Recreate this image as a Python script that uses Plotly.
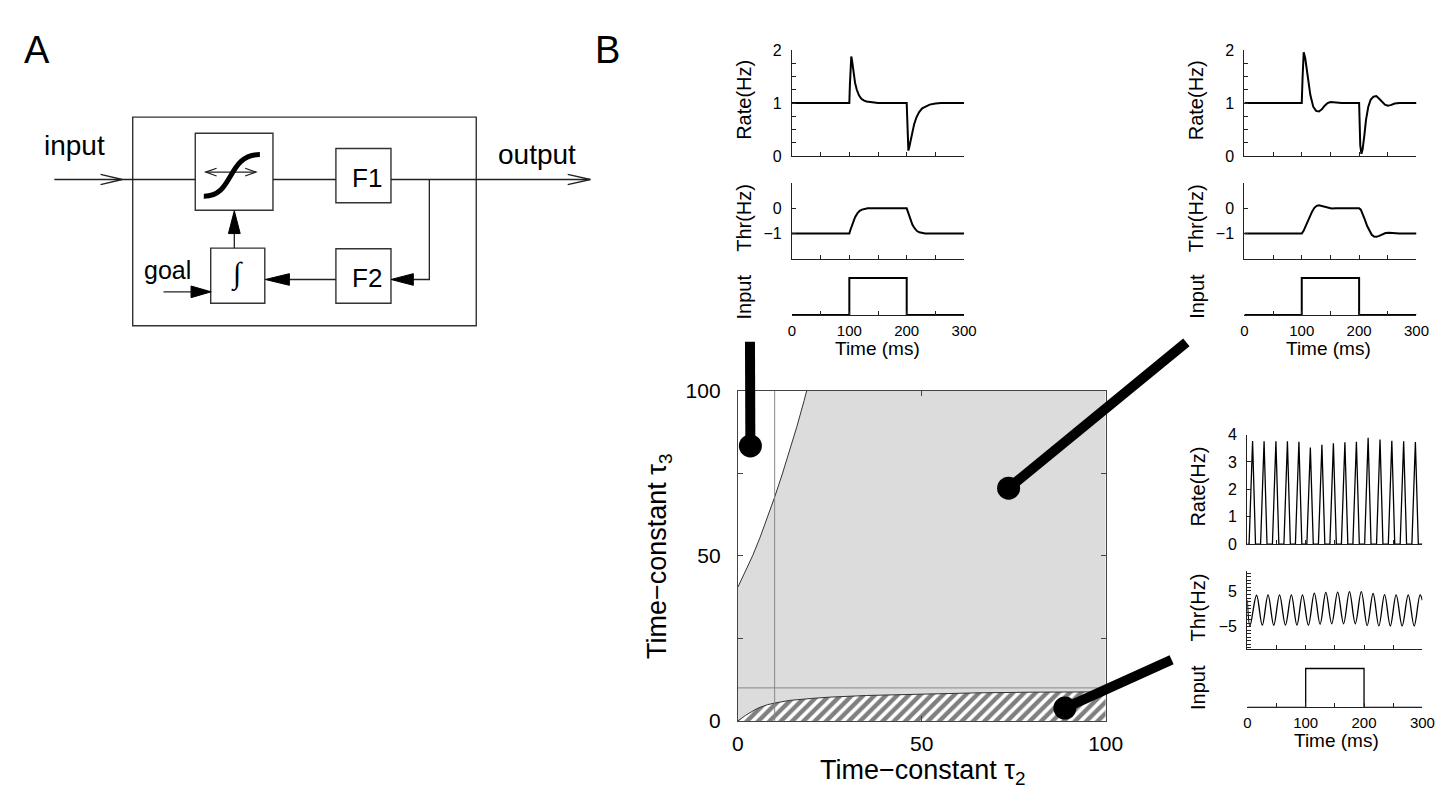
import plotly.graph_objects as go

W, H = 1456, 787
FONT = "Liberation Sans, Arial, Helvetica, sans-serif"
INK = "#222222"

# ---------------- data: parameter space (tau2, tau3) ----------------
tau_range = [0, 100]
upper_t2 = [0, 2, 4, 6, 8, 10, 12, 14, 16, 18, 18.7]
upper_t3 = [40.5, 45, 50, 55.5, 61.5, 67.8, 74.5, 81.5, 89, 97, 100]
lower_t2 = [0, 1, 2, 3, 4, 5, 6, 8, 10, 14, 20, 25, 35, 50, 65, 80, 100]
lower_t3 = [0, 0.9, 1.6, 2.3, 3.0, 3.6, 4.1, 4.9, 5.4, 6.2, 6.8, 7.2, 7.7, 8.2, 8.5, 8.7, 8.8]
guide_t2 = 10
guide_t3 = 10
sample_t2 = [3.4, 73.6, 88.9]
sample_t3 = [83.3, 70.5, 3.9]

# ---------------- data: time courses ----------------
rate1_t = [0, 100, 101, 102, 103.4, 105, 107, 110, 113, 117, 121, 125, 130, 140, 150,
           200, 200.8, 201.8, 202.9, 204.5, 207, 210, 213, 217, 221.7, 227, 233, 240, 250, 260, 300]
rate1_v = [1, 1, 1.35, 1.7, 1.88, 1.78, 1.6, 1.38, 1.25, 1.14, 1.08, 1.05, 1.03, 1.01, 1.0,
           1.0, 0.7, 0.35, 0.10, 0.17, 0.31, 0.46, 0.60, 0.73, 0.83, 0.90, 0.94, 0.97, 0.99, 1.0, 1.0]
thr1_t = [0, 100, 102, 104, 107, 110, 114, 118, 122, 127, 132,
          200, 202, 204, 207, 210, 214, 218, 222, 227, 232, 300]
thr1_v = [-1, -1, -0.85, -0.7, -0.5, -0.35, -0.2, -0.1, -0.05, -0.02, 0,
          0, -0.15, -0.3, -0.5, -0.65, -0.8, -0.9, -0.95, -0.98, -1, -1]

rate2_t = [0, 100, 101.5, 103.4, 106, 110, 115, 120, 125, 130, 135, 140, 145, 150, 160, 170,
           200, 200.8, 202, 204, 206, 209, 212, 216, 220, 225, 230, 235, 240, 245, 250, 255, 262, 270, 300]
rate2_v = [1, 1, 1.5, 1.96, 1.85, 1.5, 1.15, 0.93, 0.85, 0.84, 0.88, 0.95, 1.0, 1.02, 1.01, 1.0,
           1.0, 0.6, 0.2, 0.04, 0.12, 0.38, 0.68, 0.93, 1.06, 1.12, 1.13, 1.08, 1.02, 0.97, 0.95, 0.96, 0.99, 1.0, 1.0]
thr2_t = [0, 100, 103, 106, 110, 114, 118, 122, 126, 130, 135, 140, 146, 152, 160, 170,
          200, 203, 206, 210, 214, 218, 222, 226, 230, 235, 240, 246, 252, 260, 270, 300]
thr2_v = [-1, -1, -0.9, -0.75, -0.5, -0.3, -0.13, 0.02, 0.1, 0.12, 0.09, 0.04, 0.0, -0.01, 0, 0,
          0, -0.05, -0.2, -0.45, -0.7, -0.9, -1.05, -1.12, -1.13, -1.09, -1.03, -0.98, -0.97, -0.99, -1, -1]

rate3_t = [0, 3, 9, 14, 22.7, 28.7, 33.7, 43, 49, 54, 62.7, 68.7, 73.7, 82.4, 88.4, 93.4,
           102, 108, 113, 121.8, 127.8, 132.8, 141.5, 147.5, 152.5, 161.2, 167.2, 172.2,
           180.9, 186.9, 191.9, 201, 207, 212, 221.4, 227.4, 232.4, 241.6, 247.6, 252.6,
           261.9, 267.9, 272.9, 282, 288, 293, 300]
rate3_v = [0, 0, 3.76, 0, 0, 3.75, 0, 0, 3.75, 0, 0, 3.75, 0, 0, 3.74, 0,
           0, 3.53, 0, 0, 3.63, 0, 0, 3.68, 0, 0, 3.72, 0,
           0, 3.74, 0, 0, 3.88, 0, 0, 3.82, 0, 0, 3.77, 0,
           0, 3.75, 0, 0, 3.73, 0, 0]
thr3_t = [0, 4.5, 15.8, 25.6, 35.5, 45.3, 55.2, 65.3, 75.4, 85, 94.5, 104.6, 114.8, 124.7,
          134.5, 144.6, 154.8, 164.9, 175, 185, 195.3, 205.4, 215.5, 225.4, 235.2, 245, 255,
          265.3, 275.7, 285.9, 296, 300]
thr3_v = [2.4, -4.8, 3.8, -4.6, 3.9, -4.6, 3.9, -4.6, 3.9, -4.6, 3.9, -4.6, 4.4, -4.3,
          4.6, -4.2, 4.7, -4.2, 4.8, -4.2, 4.8, -4.7, 4.3, -4.8, 4.0, -4.8, 3.9, -4.8,
          3.9, -4.8, 3.9, 2.4]

input_t = [0, 100, 100, 200, 200, 300]
input_v = [0, 0, 1, 1, 0, 0]
time_ticks = [0, 50, 100, 150, 200, 250, 300]
time_labels = ["0", "", "100", "", "200", "", "300"]


def fx(x):
    return x / W


def fy(y):
    return 1 - y / H


def dx(a, b):
    return [fx(a), fx(b)]


def dy(top, bottom):
    return [fy(bottom), fy(top)]


fig = go.Figure()
layout = dict(width=W, height=H, margin=dict(l=0, r=0, t=0, b=0), autosize=False,
              paper_bgcolor="white", plot_bgcolor="rgba(0,0,0,0)", showlegend=False,
              font=dict(family=FONT, color="black"))
annotations = []
shapes = []

# ---------------- main parameter-space plot ----------------
MX0, MX1, MY0, MY1 = 736, 1110, 382, 722
layout["xaxis"] = dict(domain=dx(MX0, MX1), range=tau_range, showline=True, linecolor="#444", linewidth=1,
                       mirror="ticks", ticks="inside", ticklen=5, tickcolor="#444",
                       tickvals=[0, 50, 100], showgrid=False, zeroline=False,
                       tickfont=dict(size=21), ticklabelstandoff=4, anchor="y")
layout["yaxis"] = dict(domain=dy(MY0, MY1), range=tau_range, showline=True, linecolor="#444", linewidth=1,
                       mirror="ticks", ticks="inside", ticklen=5, tickcolor="#444",
                       tickvals=[0, 25, 50, 75, 100], ticktext=["0", "", "50", "", "100"],
                       showgrid=False, zeroline=False, tickfont=dict(size=21),
                       ticklabelstandoff=12, anchor="x")

fig.add_trace(go.Scatter(x=[tau_range[0], tau_range[1], tau_range[1], tau_range[0]],
                         y=[tau_range[0], tau_range[0], tau_range[1], tau_range[1]],
                         fill="toself", fillcolor="#dcdcdc", line=dict(width=0), mode="lines",
                         hoverinfo="skip", xaxis="x", yaxis="y"))
fig.add_trace(go.Scatter(x=upper_t2 + [tau_range[0]], y=upper_t3 + [tau_range[1]],
                         fill="toself", fillcolor="white", line=dict(width=0), mode="lines",
                         hoverinfo="skip", xaxis="x", yaxis="y"))
fig.add_trace(go.Scatter(x=upper_t2, y=upper_t3, mode="lines", line=dict(color="#333", width=1),
                         xaxis="x", yaxis="y"))
fig.add_trace(go.Scatter(x=lower_t2 + [tau_range[1]], y=lower_t3 + [tau_range[0]],
                         fill="toself", fillcolor="white", mode="lines", line=dict(width=0),
                         fillpattern=dict(shape="/", fgcolor="black", bgcolor="white", size=8, solidity=0.55),
                         hoverinfo="skip", xaxis="x", yaxis="y"))
fig.add_trace(go.Scatter(x=lower_t2, y=lower_t3, mode="lines", line=dict(color="#333", width=1),
                         xaxis="x", yaxis="y"))
fig.add_trace(go.Scatter(x=[guide_t2, guide_t2], y=tau_range, mode="lines",
                         line=dict(color="#888", width=1), xaxis="x", yaxis="y"))
fig.add_trace(go.Scatter(x=tau_range, y=[guide_t3, guide_t3], mode="lines",
                         line=dict(color="#888", width=1), xaxis="x", yaxis="y"))
fig.add_trace(go.Scatter(x=sample_t2, y=sample_t3, mode="markers", cliponaxis=False,
                         marker=dict(size=23, color="black"), xaxis="x", yaxis="y"))

annotations.append(dict(text="Time\u2212constant \u03c4<sub>2</sub>", x=fx(924), y=fy(775), xref="paper", yref="paper",
                        showarrow=False, font=dict(size=27), xanchor="center", yanchor="middle"))
annotations.append(dict(text="Time\u2212constant \u03c4<sub>3</sub>", x=fx(656), y=fy(552), xref="paper", yref="paper",
                        showarrow=False, font=dict(size=27), textangle=-90, xanchor="center", yanchor="middle"))

# connectors from sample points to insets
connector_ends = [(748.3, 331.5), (1192, 332), (1177, 659)]
for t2, t3, (ex, ey) in zip(sample_t2, sample_t3, connector_ends):
    cx = MX0 + (t2 - tau_range[0]) / (tau_range[1] - tau_range[0]) * (MX1 - MX0)
    cy = MY1 - (t3 - tau_range[0]) / (tau_range[1] - tau_range[0]) * (MY1 - MY0)
    shapes.append(dict(type="line", xref="paper", yref="paper", x0=fx(cx), y0=fy(cy), x1=fx(ex), y1=fy(ey),
                       line=dict(color="black", width=10), layer="above"))

# ---------------- insets ----------------
insets = [
    dict(x0=791, x1=966, rate=(31, 140), thr=(168, 246), inp=(258, 304),
         rate_t=rate1_t, rate_v=rate1_v, thr_t=thr1_t, thr_v=thr1_v,
         rate_range=[0, 2], rate_ticks=[i * 0.25 for i in range(9)],
         rate_text=["0", "", "", "", "1", "", "", "", "2"],
         thr_range=[-2, 1], thr_ticks=[-2, -1, 0, 1], thr_text=["", "\u22121", "0", ""],
         lab_x=742, time_x=878, time_y=338, lw=2, spline=False),
    dict(x0=1251, x1=1426, rate=(31, 140), thr=(168, 246), inp=(258, 304),
         rate_t=rate2_t, rate_v=rate2_v, thr_t=thr2_t, thr_v=thr2_v,
         rate_range=[0, 2], rate_ticks=[i * 0.25 for i in range(9)],
         rate_text=["0", "", "", "", "1", "", "", "", "2"],
         thr_range=[-2, 1], thr_ticks=[-2, -1, 0, 1], thr_text=["", "\u22121", "0", ""],
         lab_x=1202, time_x=1337, time_y=338, lw=2, spline=False),
    dict(x0=1254, x1=1432, rate=(427, 540), thr=(568, 648), inp=(660, 708),
         rate_t=rate3_t, rate_v=rate3_v, thr_t=thr3_t, thr_v=thr3_v,
         rate_range=[0, 4], rate_ticks=[0, 1, 2, 3, 4], rate_text=["0", "1", "2", "3", "4"],
         thr_range=[-11.3, 10.5], thr_ticks=list(range(-11, 11)),
         thr_text=["\u22125" if v == -5 else ("5" if v == 5 else "") for v in range(-11, 11)],
         lab_x=1204, time_x=1345, time_y=742, lw=1.3, spline=True),
]

n = 2
for ins in insets:
    xa_common = dict(domain=dx(ins["x0"], ins["x1"]), range=[0, 300], showline=True, linecolor=INK,
                     linewidth=1.2, ticks="inside", ticklen=4, tickcolor=INK, tickvals=time_ticks,
                     showgrid=False, zeroline=False)
    panels = [
        ("rate", ins["rate"], ins["rate_range"], ins["rate_ticks"], ins["rate_text"], "Rate(Hz)"),
        ("thr", ins["thr"], ins["thr_range"], ins["thr_ticks"], ins["thr_text"], "Thr(Hz)"),
        ("inp", ins["inp"], [0, 1.2], [], [], "Input"),
    ]
    for key, (ptop, pbot), yr, tv, tt, label in panels:
        xa = dict(xa_common, anchor="y%d" % n)
        if key == "inp":
            xa.update(ticktext=time_labels, showticklabels=True, tickfont=dict(size=15),
                      ticklabelstandoff=2)
            ya = dict(domain=dy(ptop, pbot), range=yr, showline=False, showticklabels=False,
                      ticks="", showgrid=False, zeroline=False, anchor="x%d" % n)
        else:
            xa.update(showticklabels=False)
            ya = dict(domain=dy(ptop, pbot), range=yr, showline=True, linecolor=INK, linewidth=1.2,
                      ticks="inside", ticklen=4, tickcolor=INK, tickvals=tv, ticktext=tt,
                      tickfont=dict(size=16), ticklabelstandoff=6,
                      showgrid=False, zeroline=False, anchor="x%d" % n)
        layout["xaxis%d" % n] = xa
        layout["yaxis%d" % n] = ya
        if key == "rate":
            xs, ys, shp = ins["rate_t"], ins["rate_v"], "linear"
        elif key == "thr":
            xs, ys, shp = ins["thr_t"], ins["thr_v"], ("spline" if ins["spline"] else "linear")
        else:
            xs, ys, shp = input_t, input_v, "linear"
        fig.add_trace(go.Scatter(x=xs, y=ys, mode="lines", line=dict(color="black", width=ins["lw"], shape=shp),
                                 cliponaxis=False, xaxis="x%d" % n, yaxis="y%d" % n))
        annotations.append(dict(text=label, x=fx(ins["lab_x"]), y=fy((ptop + pbot) / 2 + (4 if key == "inp" else -3)),
                                xref="paper", yref="paper", showarrow=False, textangle=-90,
                                font=dict(size=20), xanchor="center", yanchor="middle"))
        n += 1
    annotations.append(dict(text="Time (ms)", x=fx(ins["time_x"]), y=fy(ins["time_y"]), xref="paper", yref="paper",
                            showarrow=False, font=dict(size=19), xanchor="center", yanchor="middle"))

# ---------------- panel A: block diagram ----------------
boxes = [(120.7, 100, 470, 315), (184.3, 116.7, 263.3, 196), (327.3, 132.3, 383.3, 188.3),
         (327.3, 235.7, 383.3, 291.7), (200, 235, 255, 291.7)]
wires = [[(41, 164.3), (184.3, 164.3)], [(263.3, 164.3), (327.3, 164.3)], [(383.3, 164.3), (586, 164.3)],
         [(422.3, 164.3), (422.3, 267.3), (400, 267.3)], [(327.3, 267.3), (270, 267.3)],
         [(224, 235), (224, 210)], [(152, 280), (190, 280)], [(195, 156.7), (246, 156.7)]]
open_heads = [[(88, 159), (110, 164.3), (88, 169.6)], [(563, 159), (586, 164.3), (563, 169.6)],
              [(206, 152.7), (195, 156.7), (206, 160.7)], [(235, 152.7), (246, 156.7), (235, 160.7)]]
filled_heads = [[(383.3, 267.3), (406, 261.3), (406, 273.3)], [(255.5, 267.3), (280, 261.3), (280, 273.3)],
                [(224, 196.5), (218, 220), (230, 220)], [(200.5, 280), (180, 274), (180, 286)]]
sigmoid = [(193, 181.5), (224, 182), (216, 138.5), (250, 138.5)]


def pth(pts, close=False):
    s = "M " + " L ".join("%.5f,%.5f" % (fx(x), fy(y)) for x, y in pts)
    return s + (" Z" if close else "")


for (x0, y0, x1, y1) in boxes:
    shapes.append(dict(type="rect", xref="paper", yref="paper", x0=fx(x0), x1=fx(x1), y0=fy(y1), y1=fy(y0),
                       line=dict(color="#333", width=1.4), fillcolor="rgba(0,0,0,0)"))
for w in wires:
    shapes.append(dict(type="path", xref="paper", yref="paper", path=pth(w), line=dict(color="#222", width=1.3)))
for h in open_heads:
    shapes.append(dict(type="path", xref="paper", yref="paper", path=pth(h), line=dict(color="#222", width=1.3)))
for h in filled_heads:
    shapes.append(dict(type="path", xref="paper", yref="paper", path=pth(h, True),
                       line=dict(color="black", width=1), fillcolor="black"))
(p0, c1, c2, p3) = sigmoid
shapes.append(dict(type="path", xref="paper", yref="paper",
                   path="M %.5f,%.5f C %.5f,%.5f %.5f,%.5f %.5f,%.5f" % (fx(p0[0]), fy(p0[1]), fx(c1[0]), fy(c1[1]),
                                                                      fx(c2[0]), fy(c2[1]), fx(p3[0]), fy(p3[1])),
                   line=dict(color="black", width=5)))

diagram_text = [("input", 62, 129, 28), ("output", 532, 139, 28), ("goal", 156, 258, 25),
                ("F1", 359, 163, 26), ("F2", 359, 266, 26)]
for t, x, y, s in diagram_text:
    annotations.append(dict(text=t, x=fx(x), y=fy(y), xref="paper", yref="paper", showarrow=False,
                            font=dict(size=s), xanchor="center", yanchor="middle"))
annotations.append(dict(text="\u222b", x=fx(227), y=fy(262), xref="paper", yref="paper", showarrow=False,
                        font=dict(size=30, family="Liberation Serif, serif"), xanchor="center", yanchor="middle"))
for t, x in [("A", 23), ("B", 603)]:
    annotations.append(dict(text=t, x=fx(x), y=fy(31), xref="paper", yref="paper", showarrow=False,
                            font=dict(size=38), xanchor="center", yanchor="middle"))

layout["annotations"] = annotations
layout["shapes"] = shapes
fig.update_layout(**layout)
fig.write_html("out.html")
